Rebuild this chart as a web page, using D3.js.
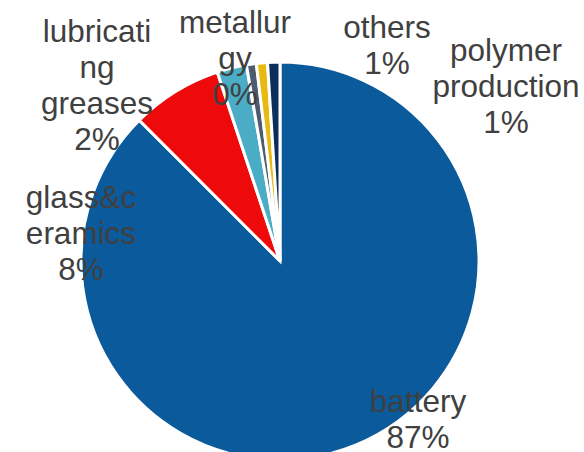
<!DOCTYPE html>
<html>
<head>
<meta charset="utf-8">
<script src="https://cdn.jsdelivr.net/npm/d3@7"></script>
<style>
  html, body { margin: 0; padding: 0; background: #ffffff; }
  svg { display: block; }
</style>
</head>
<body>
<svg id="chart" width="584" height="452"></svg>
<script>
// ---- data ----
const categories = ["battery", "glass&ceramics", "lubricating greases", "metallurgy", "others", "polymer production"];
const values = [87.5, 7.4, 2.4, 0.8, 0.9, 1.0];
const labelPercents = ["87%", "8%", "2%", "0%", "1%", "1%"];
const labelLines = [
  ["battery"],
  ["glass&c", "eramics"],
  ["lubricati", "ng", "greases"],
  ["metallur", "gy"],
  ["others"],
  ["polymer", "production"]
];
const colors = ["#0A5A9C", "#EE0A0A", "#4BACC6", "#4E5A6E", "#E8B912", "#0B2F5C"];

// ---- layout (label anchors: center x, first baseline y) ----
const labelAnchors = [
  [418, 412],
  [81, 208],
  [97, 42],
  [235, 33],
  [387, 38],
  [506, 61]
];
const lineHeight = 36;

const svg = d3.select("#chart");
const cx = 280, cy = 261, r = 199;

const pie = d3.pie().sort(null).value(d => d)(values);
const arc = d3.arc().innerRadius(0).outerRadius(r);

const g = svg.append("g").attr("transform", `translate(${cx},${cy})`);
g.selectAll("path")
  .data(pie)
  .join("path")
  .attr("d", arc)
  .attr("fill", (d, i) => colors[i])
  .attr("stroke", "#ffffff")
  .attr("stroke-width", 3)
  .attr("stroke-linejoin", "miter");

const labels = svg.append("g")
  .attr("font-family", "'Liberation Sans', Arial, sans-serif")
  .attr("font-size", 31.5)
  .attr("fill", "#404040")
  .attr("text-anchor", "middle");

categories.forEach((c, i) => {
  const lines = labelLines[i].concat([labelPercents[i]]);
  const t = labels.append("text")
    .attr("x", labelAnchors[i][0])
    .attr("y", labelAnchors[i][1]);
  lines.forEach((ln, k) => {
    t.append("tspan")
      .attr("x", labelAnchors[i][0])
      .attr("dy", k === 0 ? 0 : lineHeight)
      .text(ln);
  });
});
</script>
</body>
</html>
